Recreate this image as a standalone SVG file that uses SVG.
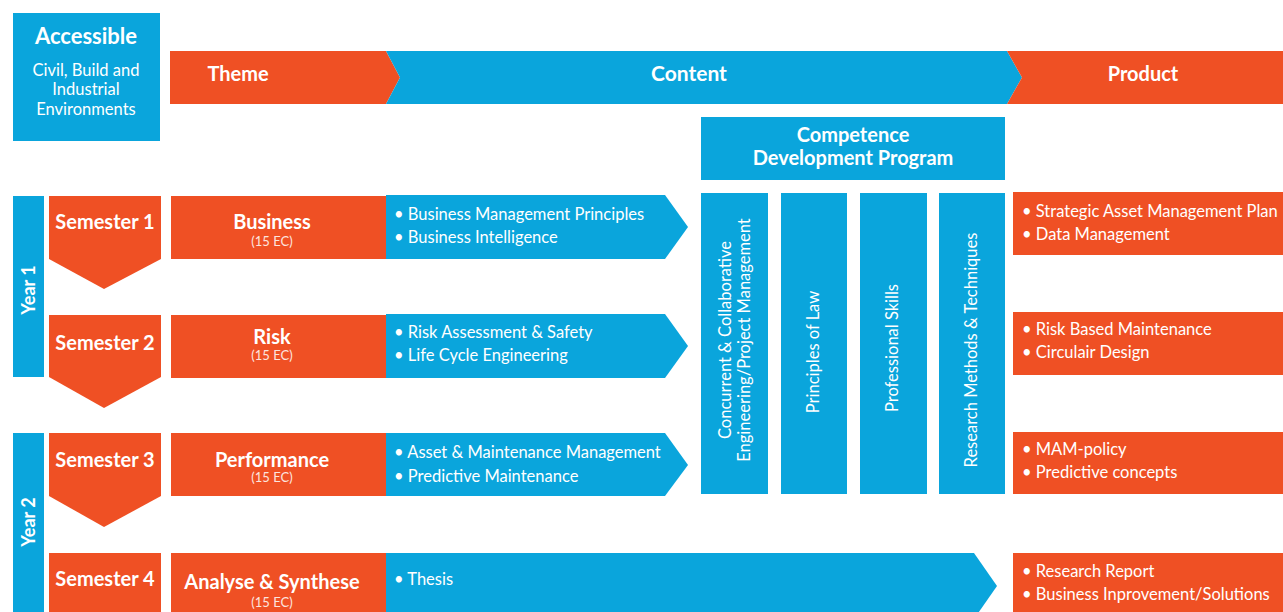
<svg xmlns="http://www.w3.org/2000/svg" width="1283" height="612" viewBox="0 0 1283 612">
<style>
.b{fill:#0aa5dc}
.o{fill:#ef5024}
text{fill:#fff;font-family:Lato,"Liberation Sans",sans-serif}
.h{font-weight:bold;font-size:20px;text-anchor:middle}
.y{font-weight:bold;font-size:18px;text-anchor:middle}
.t{font-size:16.5px}
.s{font-size:13px;text-anchor:middle;opacity:.85}
.c{text-anchor:middle;font-size:16.5px}
.v{font-size:16.5px;text-anchor:middle}
</style>
<rect width="1283" height="612" fill="#fff"/>
<g id="accessible">
<rect class="b" x="13" y="13" width="147" height="128"/>
<text class="h" x="86" y="44" style="font-size:22px">Accessible</text>
<text class="c" x="86" y="76">Civil, Build and</text>
<text class="c" x="86" y="95">Industrial</text>
<text class="c" x="86" y="115">Environments</text>
</g>
<g id="theme">
<polygon class="o" points="170,51 386,51 400,77.5 386,104 170,104"/>
<text class="h" x="238" y="81">Theme</text>
</g>
<g id="content">
<polygon class="b" points="386,51 1007,51 1022,77.5 1007,104 386,104 400,77.5"/>
<text class="h" x="689" y="81" style="font-size:21px">Content</text>
</g>
<g id="product">
<polygon class="o" points="1007,51 1283,51 1283,104 1007,104 1022,77.5"/>
<text class="h" x="1143" y="81">Product</text>
</g>
<g id="competence">
<rect class="b" x="701" y="117" width="304" height="63"/>
<text class="h" x="853" y="142">Competence</text>
<text class="h" x="853" y="165">Development Program</text>
</g>
<g id="bar-concurrent">
<rect class="b" x="701" y="193" width="67" height="301"/>
<text class="v" transform="translate(731 340) rotate(-90)">Concurrent &amp; Collaborative</text>
<text class="v" transform="translate(750 340) rotate(-90)">Engineering/Project Management</text>
</g>
<g id="bar-law">
<rect class="b" x="781" y="193" width="66" height="301"/>
<text class="v" transform="translate(819 352) rotate(-90)">Principles of  Law</text>
</g>
<g id="bar-skills">
<rect class="b" x="860" y="193" width="67" height="301"/>
<text class="v" transform="translate(898 348) rotate(-90)">Professional Skills</text>
</g>
<g id="bar-research">
<rect class="b" x="939" y="193" width="66" height="301"/>
<text class="v" transform="translate(977 350) rotate(-90)">Research Methods &amp; Techniques</text>
</g>
<g id="year1">
<rect class="b" x="13" y="196" width="31" height="181"/>
<text class="y" transform="translate(35 290) rotate(-90)">Year 1</text>
</g>
<g id="year2">
<rect class="b" x="13" y="433" width="31" height="179"/>
<text class="y" transform="translate(35 522) rotate(-90)">Year 2</text>
</g>
<g id="semester1">
<polygon class="o" points="49,196 161,196 161,259 104,289 49,259"/>
<text class="h" x="105" y="229">Semester 1</text>
</g>
<g id="semester2">
<polygon class="o" points="49,315 161,315 161,377 104,408 49,377"/>
<text class="h" x="105" y="350">Semester 2</text>
</g>
<g id="semester3">
<polygon class="o" points="49,433 161,433 161,496 104,527 49,496"/>
<text class="h" x="105" y="467">Semester 3</text>
</g>
<g id="semester4">
<rect class="o" x="49" y="553" width="112" height="59"/>
<text class="h" x="105" y="586">Semester 4</text>
</g>
<g id="business">
<rect class="o" x="171" y="196" width="215" height="63"/>
<text class="h" x="272" y="229">Business</text>
<text class="s" x="272" y="246">(15 EC)</text>
</g>
<g id="risk">
<rect class="o" x="171" y="315" width="215" height="63"/>
<text class="h" x="272" y="344">Risk</text>
<text class="s" x="272" y="360">(15 EC)</text>
</g>
<g id="performance">
<rect class="o" x="171" y="433" width="215" height="63"/>
<text class="h" x="272" y="467">Performance</text>
<text class="s" x="272" y="482">(15 EC)</text>
</g>
<g id="analyse">
<rect class="o" x="171" y="553" width="215" height="59"/>
<text class="h" x="272" y="589">Analyse &amp; Synthese</text>
<text class="s" x="272" y="607">(15 EC)</text>
</g>
<g id="content-business">
<polygon class="b" points="386,195 665,195 688,227 665,259 386,259"/>
<text class="t" x="394" y="220">• Business Management Principles</text>
<text class="t" x="394" y="243">• Business Intelligence</text>
</g>
<g id="content-risk">
<polygon class="b" points="386,314 665,314 688,346 665,378 386,378"/>
<text class="t" x="394" y="338">• Risk Assessment &amp; Safety</text>
<text class="t" x="394" y="361">• Life Cycle Engineering</text>
</g>
<g id="content-performance">
<polygon class="b" points="386,433 665,433 688,465 665,496 386,496"/>
<text class="t" x="394" y="458">• Asset &amp; Maintenance Management</text>
<text class="t" x="394" y="482">• Predictive Maintenance</text>
</g>
<g id="content-thesis">
<polygon class="b" points="386,553 974,553 997,586 974,619 386,619"/>
<text class="t" x="394" y="585">• Thesis</text>
</g>
<g id="product1">
<rect class="o" x="1013" y="192" width="270" height="63"/>
<text class="t" x="1022" y="217">• Strategic Asset Management Plan</text>
<text class="t" x="1022" y="240">• Data Management</text>
</g>
<g id="product2">
<rect class="o" x="1013" y="312" width="270" height="63"/>
<text class="t" x="1022" y="335">• Risk Based Maintenance</text>
<text class="t" x="1022" y="358">• Circulair Design</text>
</g>
<g id="product3">
<rect class="o" x="1013" y="432" width="270" height="62"/>
<text class="t" x="1022" y="455">• MAM-policy</text>
<text class="t" x="1022" y="478">• Predictive concepts</text>
</g>
<g id="product4">
<rect class="o" x="1013" y="553" width="270" height="59"/>
<text class="t" x="1022" y="577">• Research Report</text>
<text class="t" x="1022" y="600">• Business Inprovement/Solutions</text>
</g>
<g id="connectors"></g>
</svg>
